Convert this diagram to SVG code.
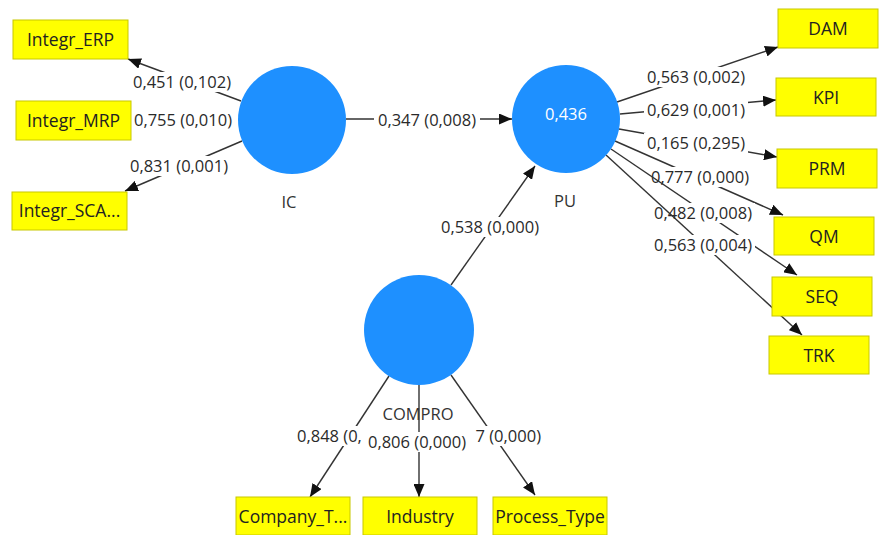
<svg xmlns="http://www.w3.org/2000/svg" width="881" height="535" viewBox="0 0 881 535">
<defs>
<marker id="arr" markerUnits="userSpaceOnUse" markerWidth="13" markerHeight="11" refX="13" refY="5.5" orient="auto">
<path d="M0,0 L13,5.5 L0,11 z" fill="#111"/>
</marker>
<style>
.e{stroke:#333;stroke-width:1.4;fill:none;marker-end:url(#arr)}
.lb{fill:#fff}
.lt{font-family:"Open Sans","Noto Sans",sans-serif;font-size:16.5px;fill:#2a2a2a;text-anchor:middle}
.box{fill:#ffff00;stroke:#c8c800;stroke-width:1}
.bt{font-family:"Open Sans","Noto Sans",sans-serif;font-size:17.5px;fill:#222;text-anchor:middle}
.lv{fill:#1e90ff}
.nl{font-family:"Open Sans","Noto Sans",sans-serif;font-size:16.5px;fill:#333;text-anchor:middle}
</style>
</defs>
<rect width="881" height="535" fill="#fff"/>
<g id="connectors">
<g><line class="e" x1="241" y1="101" x2="128" y2="59"/><rect class="lb" x="131" y="72" width="102" height="20"/><text class="lt" x="182" y="88">0,451 (0,102)</text></g>
<g><line class="e" x1="238" y1="120" x2="131" y2="120"/><rect class="lb" x="130" y="110" width="108" height="20"/><text class="lt" x="183" y="126">0,755 (0,010)</text></g>
<g><line class="e" x1="242" y1="141" x2="125" y2="191"/><rect class="lb" x="128" y="156" width="102" height="20"/><text class="lt" x="179" y="172">0,831 (0,001)</text></g>
<g><line class="e" x1="346" y1="119" x2="512" y2="119"/><rect class="lb" x="374" y="110" width="106" height="20"/><text class="lt" x="427" y="126">0,347 (0,008)</text></g>
<g><line class="e" x1="451" y1="285" x2="535" y2="166"/><rect class="lb" x="438" y="217" width="104" height="20"/><text class="lt" x="490" y="233">0,538 (0,000)</text></g>
<g><line class="e" x1="617" y1="102" x2="778" y2="47"/><rect class="lb" x="644" y="67" width="104" height="20"/><text class="lt" x="696" y="83">0,563 (0,002)</text></g>
<g><line class="e" x1="620" y1="114" x2="776" y2="100"/><rect class="lb" x="644" y="100" width="104" height="20"/><text class="lt" x="696" y="116">0,629 (0,001)</text></g>
<g><line class="e" x1="619" y1="129" x2="777" y2="157"/><rect class="lb" x="644" y="133" width="104" height="20"/><text class="lt" x="696" y="149">0,165 (0,295)</text></g>
<g><line class="e" x1="615" y1="141" x2="783" y2="215"/><rect class="lb" x="648" y="167" width="104" height="20"/><text class="lt" x="700" y="183">0,777 (0,000)</text></g>
<g><line class="e" x1="611" y1="149" x2="797" y2="275"/><rect class="lb" x="651" y="203" width="104" height="20"/><text class="lt" x="703" y="219">0,482 (0,008)</text></g>
<g><line class="e" x1="606" y1="155" x2="802" y2="335"/><rect class="lb" x="651" y="235" width="104" height="20"/><text class="lt" x="703" y="251">0,563 (0,004)</text></g>
<g><line class="e" x1="389" y1="376" x2="310" y2="497"/><rect class="lb" x="295" y="426" width="72" height="20"/><text class="lt" x="297" y="442" style="text-anchor:start">0,848 (0,</text></g>
<g><line class="e" x1="451" y1="375" x2="535" y2="495"/><rect class="lb" x="466" y="426" width="77" height="20"/><text class="lt" x="541" y="442" style="text-anchor:end">7 (0,000)</text></g>
<g><line class="e" x1="419" y1="385" x2="419" y2="497"/><rect class="lb" x="365" y="432" width="104" height="20"/><text class="lt" x="417" y="448">0,806 (0,000)</text></g>
</g>
<g id="IC"><circle class="lv" cx="292" cy="120" r="54"/><text class="nl" x="289" y="208">IC</text></g>
<g id="PU"><circle class="lv" cx="566" cy="119" r="54"/><text class="nl" x="566" y="120" style="fill:#fff">0,436</text><text class="nl" x="565" y="207">PU</text></g>
<g id="COMPRO"><circle class="lv" cx="419" cy="330" r="55"/><text class="nl" x="418" y="420">COMPRO</text></g>
<g id="Integr_ERP"><rect class="box" x="13" y="20" width="115" height="39"/><text class="bt" x="70.5" y="46">Integr_ERP</text></g>
<g id="Integr_MRP"><rect class="box" x="16" y="101" width="115" height="39"/><text class="bt" x="73.5" y="127">Integr_MRP</text></g>
<g id="Integr_SCA"><rect class="box" x="12" y="192" width="115" height="38"/><text class="bt" x="69.5" y="217">Integr_SCA...</text></g>
<g id="DAM"><rect class="box" x="778" y="9" width="100" height="39"/><text class="bt" x="828" y="35">DAM</text></g>
<g id="KPI"><rect class="box" x="776" y="78" width="100" height="38"/><text class="bt" x="826" y="104">KPI</text></g>
<g id="PRM"><rect class="box" x="777" y="149" width="100" height="39"/><text class="bt" x="827" y="175">PRM</text></g>
<g id="QM"><rect class="box" x="774" y="217" width="100" height="38"/><text class="bt" x="824" y="243">QM</text></g>
<g id="SEQ"><rect class="box" x="772" y="277" width="100" height="39"/><text class="bt" x="822" y="303">SEQ</text></g>
<g id="TRK"><rect class="box" x="769" y="336" width="100" height="38"/><text class="bt" x="819" y="362">TRK</text></g>
<g id="Company_T"><rect class="box" x="236" y="497" width="114" height="38"/><text class="bt" x="293" y="523">Company_T...</text></g>
<g id="Industry"><rect class="box" x="363" y="497" width="114" height="38"/><text class="bt" x="420" y="523">Industry</text></g>
<g id="Process_Type"><rect class="box" x="493" y="497" width="114" height="38"/><text class="bt" x="550" y="523">Process_Type</text></g>
</svg>
